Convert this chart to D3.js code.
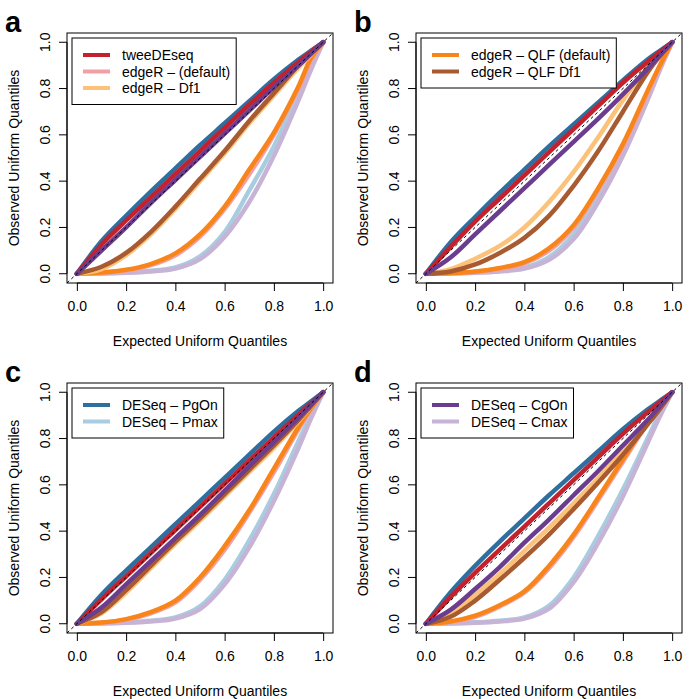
<!DOCTYPE html>
<html>
<head>
<meta charset="utf-8">
<script src="https://cdn.jsdelivr.net/npm/d3@7"></script>
<style>
body { margin: 0; background: #fff; }
text { font-family: "Liberation Sans", Arial, Helvetica, sans-serif; }
</style>
</head>
<body>
<svg id="chart" width="695" height="699"></svg>
<script>
// expected uniform quantiles (x grid shared by every curve)
var expected = [0, 0.1, 0.2, 0.3, 0.4, 0.5, 0.6, 0.7, 0.8, 0.9, 0.95, 1]

var methods = ["tweeDEseq", "edgeR \u2013 (default)", "edgeR \u2013 Df1",
    "edgeR \u2013 QLF (default)", "edgeR \u2013 QLF Df1",
    "DESeq \u2013 PgOn", "DESeq \u2013 Pmax", "DESeq \u2013 CgOn", "DESeq \u2013 Cmax"]
var colors = ["#c4212d", "#f2a0a5", "#fcc27a", "#f8851a", "#a85a30",
    "#2f6f9f", "#a8cde0", "#6a3d8e", "#c7b3d6"]

// observed quantiles, one row per method (same order as methods)
var obsA = [
    [0, 0.125, 0.23, 0.33, 0.43, 0.53, 0.63, 0.73, 0.825, 0.915, 0.958, 1],
    [0, 0.004, 0.014, 0.037, 0.08, 0.16, 0.28, 0.43, 0.60, 0.80, 0.92, 1],
    [0, 0.02, 0.08, 0.17, 0.28, 0.40, 0.52, 0.65, 0.77, 0.89, 0.945, 1],
    [0, 0.005, 0.017, 0.042, 0.088, 0.17, 0.29, 0.45, 0.61, 0.81, 0.93, 1],
    [0, 0.03, 0.09, 0.18, 0.29, 0.41, 0.53, 0.66, 0.78, 0.90, 0.95, 1],
    [0, 0.14, 0.25, 0.355, 0.455, 0.555, 0.65, 0.745, 0.84, 0.925, 0.963, 1],
    [0, 0.002, 0.006, 0.013, 0.027, 0.075, 0.18, 0.36, 0.55, 0.78, 0.90, 1],
    [0, 0.10, 0.20, 0.305, 0.405, 0.505, 0.605, 0.705, 0.805, 0.90, 0.95, 1],
    [0, 0.001, 0.004, 0.01, 0.022, 0.063, 0.16, 0.31, 0.51, 0.75, 0.88, 1]
]
var obsB = [
    [0, 0.115, 0.225, 0.325, 0.425, 0.525, 0.625, 0.725, 0.825, 0.915, 0.958, 1],
    [0, 0.002, 0.008, 0.02, 0.045, 0.10, 0.20, 0.36, 0.55, 0.78, 0.895, 1],
    [0, 0.02, 0.065, 0.12, 0.20, 0.31, 0.44, 0.59, 0.75, 0.89, 0.95, 1],
    [0, 0.003, 0.01, 0.025, 0.05, 0.11, 0.21, 0.37, 0.56, 0.79, 0.90, 1],
    [0, 0.01, 0.04, 0.09, 0.155, 0.25, 0.38, 0.53, 0.70, 0.87, 0.94, 1],
    [0, 0.135, 0.245, 0.35, 0.45, 0.55, 0.645, 0.74, 0.835, 0.925, 0.963, 1],
    [0, 0.002, 0.006, 0.013, 0.027, 0.072, 0.17, 0.34, 0.55, 0.78, 0.90, 1],
    [0, 0.07, 0.17, 0.27, 0.37, 0.47, 0.57, 0.67, 0.775, 0.885, 0.943, 1],
    [0, 0.001, 0.004, 0.01, 0.022, 0.06, 0.15, 0.31, 0.51, 0.75, 0.88, 1]
]
var obsC = [
    [0, 0.105, 0.205, 0.305, 0.405, 0.505, 0.605, 0.705, 0.805, 0.903, 0.952, 1],
    [0, 0.004, 0.017, 0.045, 0.092, 0.19, 0.32, 0.48, 0.655, 0.84, 0.925, 1],
    [0, 0.045, 0.135, 0.24, 0.345, 0.445, 0.55, 0.655, 0.76, 0.875, 0.937, 1],
    [0, 0.005, 0.02, 0.05, 0.10, 0.20, 0.335, 0.49, 0.67, 0.85, 0.93, 1],
    [0, 0.05, 0.145, 0.25, 0.355, 0.455, 0.56, 0.665, 0.77, 0.88, 0.94, 1],
    [0, 0.125, 0.23, 0.33, 0.43, 0.53, 0.63, 0.73, 0.83, 0.92, 0.96, 1],
    [0, 0.002, 0.006, 0.013, 0.027, 0.075, 0.19, 0.36, 0.56, 0.79, 0.90, 1],
    [0, 0.07, 0.17, 0.27, 0.37, 0.47, 0.575, 0.68, 0.785, 0.89, 0.945, 1],
    [0, 0.001, 0.004, 0.01, 0.022, 0.063, 0.17, 0.33, 0.53, 0.76, 0.885, 1]
]
var obsD = [
    [0, 0.115, 0.22, 0.32, 0.42, 0.52, 0.62, 0.72, 0.82, 0.913, 0.957, 1],
    [0, 0.008, 0.03, 0.075, 0.135, 0.24, 0.375, 0.535, 0.70, 0.865, 0.93, 1],
    [0, 0.045, 0.125, 0.215, 0.315, 0.415, 0.52, 0.63, 0.745, 0.865, 0.93, 1],
    [0, 0.01, 0.035, 0.08, 0.14, 0.25, 0.385, 0.545, 0.71, 0.87, 0.935, 1],
    [0, 0.03, 0.10, 0.19, 0.285, 0.385, 0.495, 0.61, 0.73, 0.86, 0.927, 1],
    [0, 0.135, 0.25, 0.355, 0.455, 0.555, 0.65, 0.745, 0.84, 0.925, 0.963, 1],
    [0, 0.002, 0.006, 0.013, 0.027, 0.078, 0.2, 0.38, 0.58, 0.80, 0.91, 1],
    [0, 0.06, 0.15, 0.245, 0.35, 0.45, 0.555, 0.66, 0.77, 0.88, 0.94, 1],
    [0, 0.001, 0.004, 0.01, 0.022, 0.065, 0.18, 0.35, 0.55, 0.78, 0.895, 1]
]

var ticks = [0, 0.2, 0.4, 0.6, 0.8, 1.0]
var panelLetters = ["a", "b", "c", "d"]
var panelData = [obsA, obsB, obsC, obsD]
var legendSets = [[0, 1, 2], [3, 4], [5, 6], [7, 8]]
var drawOrder = [6, 8, 1, 3, 2, 4, 5, 0, 7]

var svg = d3.select("#chart")
var offX = [0, 349, 0, 349]
var offY = [0, 0, 350, 350]

var x = d3.scaleLinear().domain([-0.04, 1.04]).range([67, 333])
var y = d3.scaleLinear().domain([-0.04, 1.04]).range([283, 33])

var line = d3.line()
    .x(function(d){ return x(d[0]) })
    .y(function(d){ return y(d[1]) })
    .curve(d3.curveCatmullRom.alpha(0.5))

panelData.forEach(function(obs, p){
    var g = svg.append("g").attr("transform", "translate(" + offX[p] + "," + offY[p] + ")")

    g.append("defs").append("clipPath").attr("id", "clip" + p)
        .append("rect").attr("x", 67).attr("y", 33).attr("width", 266).attr("height", 250)

    var plot = g.append("g").attr("clip-path", "url(#clip" + p + ")")

    drawOrder.forEach(function(k){
        var pts = expected.map(function(e, i){ return [e, obs[k][i]] })
        plot.append("path").datum(pts)
            .attr("d", line)
            .attr("fill", "none")
            .attr("stroke", colors[k])
            .attr("stroke-width", 4.5)
            .attr("stroke-linejoin", "round")
            .attr("stroke-linecap", "round")
    })

    // y = x reference
    plot.append("line")
        .attr("x1", x(-0.04)).attr("y1", y(-0.04))
        .attr("x2", x(1.04)).attr("y2", y(1.04))
        .attr("stroke", "#000").attr("stroke-width", 1)
        .attr("stroke-dasharray", "3,3")

    // box
    g.append("rect").attr("x", 67).attr("y", 33).attr("width", 266).attr("height", 250)
        .attr("fill", "none").attr("stroke", "#000").attr("stroke-width", 1)

    // axes
    var xAxis = d3.axisBottom(x).tickValues(ticks).tickSize(8).tickPadding(10)
        .tickFormat(d3.format(".1f"))
    var gx = g.append("g").attr("transform", "translate(0,283)").call(xAxis)
    gx.select(".domain").attr("d", "M" + x(0) + ",0H" + x(1))
    gx.selectAll("text").attr("font-size", 14).attr("fill", "#000")
        .style("font-family", "Liberation Sans, Arial, sans-serif")

    var yAxis = d3.axisLeft(y).tickValues(ticks).tickSize(8).tickFormat(d3.format(".1f"))
    var gy = g.append("g").attr("transform", "translate(67,0)").call(yAxis)
    gy.select(".domain").attr("d", "M0," + y(0) + "V" + y(1))
    gy.selectAll("text")
        .attr("font-size", 14).attr("fill", "#000")
        .attr("x", null).attr("dy", null)
        .attr("text-anchor", "middle")
        .attr("transform", function(d){ return "translate(-17," + y(d) + ") rotate(-90)" })
        .style("font-family", "Liberation Sans, Arial, sans-serif")
    gy.selectAll(".tick").attr("transform", null)
    gy.selectAll(".tick line").attr("transform", function(d){ return "translate(0," + y(d) + ")" })

    g.append("text").attr("x", 200).attr("y", 346).attr("text-anchor", "middle")
        .attr("font-size", 14).text("Expected Uniform Quantiles")
    g.append("text").attr("transform", "translate(19,158) rotate(-90)")
        .attr("text-anchor", "middle").attr("font-size", 14).text("Observed Uniform Quantiles")

    g.append("text").attr("x", 5).attr("y", 32).attr("font-size", 29)
        .attr("font-weight", "bold").text(panelLetters[p])

    // legend
    var items = legendSets[p]
    var lg = g.append("g")
    var lbox = lg.append("rect").attr("x", 72).attr("y", 38)
        .attr("height", 16.5 * items.length + 17)
        .attr("fill", "#fff").attr("stroke", "#000").attr("stroke-width", 1)
    var maxLen = 0
    items.forEach(function(k, i){
        var cy = 55 + i * 16.5
        lg.append("line").attr("x1", 83).attr("x2", 110).attr("y1", cy).attr("y2", cy)
            .attr("stroke", colors[k]).attr("stroke-width", 4)
        var t = lg.append("text").attr("x", 122).attr("y", cy + 5)
            .attr("font-size", 14).text(methods[k])
        maxLen = Math.max(maxLen, t.node().getComputedTextLength())
    })
    lbox.attr("width", 122 + maxLen + 6 - 72)
})
</script>
</body>
</html>
